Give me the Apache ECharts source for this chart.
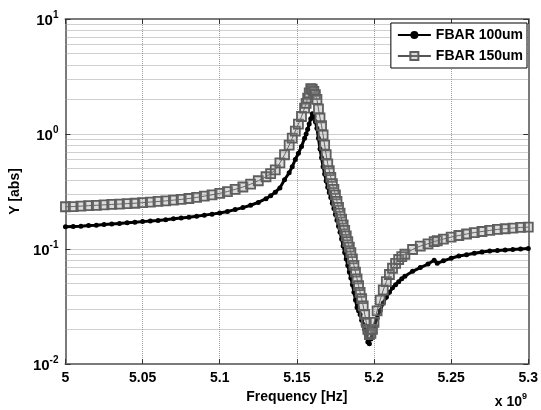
<!DOCTYPE html>
<html>
<head>
<meta charset="utf-8">
<script src="https://cdn.jsdelivr.net/npm/echarts@6/dist/echarts.min.js"></script>
<style>
  html, body { margin: 0; padding: 0; background: #fff; }
  #chart { width: 541px; height: 410px; }
</style>
</head>
<body>
<div id="chart"></div>
<script>
// frequency in GHz (shown as x 10^9 Hz), denser sampling around the resonance
var freq = [
  5.000, 5.005, 5.010, 5.015, 5.020, 5.025, 5.030, 5.035, 5.040, 5.045,
  5.050, 5.055, 5.060, 5.065, 5.070, 5.075, 5.080, 5.085, 5.090, 5.095,
  5.100, 5.105, 5.110, 5.115, 5.120, 5.125, 5.130,
  5.133, 5.136, 5.139, 5.142, 5.145, 5.147, 5.149, 5.151, 5.153, 5.155,
  5.156, 5.157, 5.158, 5.159, 5.160, 5.161, 5.162, 5.163, 5.164, 5.165,
  5.166, 5.167, 5.168, 5.169, 5.170, 5.171, 5.172, 5.173, 5.174, 5.175,
  5.176, 5.177, 5.178, 5.179, 5.180, 5.181, 5.182, 5.183, 5.184, 5.185,
  5.186, 5.187, 5.188, 5.189, 5.190, 5.191, 5.192, 5.193, 5.194, 5.195,
  5.196, 5.197, 5.198, 5.199, 5.200,
  5.202, 5.204, 5.206, 5.208, 5.210, 5.212, 5.214, 5.216, 5.218, 5.220,
  5.225, 5.230, 5.235, 5.239, 5.241, 5.245,
  5.250, 5.255, 5.260, 5.265, 5.270, 5.275, 5.280, 5.285, 5.290, 5.295, 5.300
];

// |Y| for the 100um resonator
var y100 = [
  0.156, 0.157, 0.158, 0.160, 0.161, 0.163, 0.165, 0.167, 0.169, 0.171,
  0.173, 0.175, 0.177, 0.180, 0.183, 0.186, 0.189, 0.193, 0.197, 0.201,
  0.206, 0.212, 0.220, 0.229, 0.240, 0.254, 0.274,
  0.290, 0.312, 0.340, 0.400, 0.46, 0.52, 0.60, 0.68, 0.78, 0.92,
  1.00, 1.10, 1.22, 1.36, 1.50, 1.42, 1.28, 1.12, 0.92, 0.74,
  0.62, 0.52, 0.45, 0.39, 0.345, 0.31, 0.28, 0.25, 0.225, 0.200,
  0.178, 0.158, 0.140, 0.122, 0.106, 0.093, 0.082, 0.072, 0.063, 0.056,
  0.049, 0.042, 0.036, 0.031, 0.029, 0.027, 0.024, 0.022, 0.020, 0.018,
  0.0155, 0.0150, 0.0165, 0.0185, 0.021,
  0.025, 0.029, 0.034, 0.038, 0.042, 0.046, 0.049, 0.052, 0.055, 0.058,
  0.064, 0.069, 0.074, 0.080, 0.075, 0.079,
  0.083, 0.087, 0.089, 0.092, 0.094, 0.096, 0.097, 0.098, 0.099, 0.100, 0.101
];

// |Y| for the 150um resonator
var y150 = [
  0.233, 0.234, 0.236, 0.238, 0.240, 0.242, 0.244, 0.246, 0.248, 0.250,
  0.253, 0.256, 0.259, 0.262, 0.266, 0.270, 0.275, 0.281, 0.288, 0.296,
  0.305, 0.316, 0.330, 0.346, 0.366, 0.392, 0.425,
  0.452, 0.487, 0.56, 0.66, 0.80, 0.92, 1.06, 1.22, 1.42, 1.68,
  1.85, 2.05, 2.28, 2.48, 2.45, 2.35, 2.20, 2.00, 1.65, 1.38,
  1.18, 0.98, 0.80, 0.66, 0.55, 0.48, 0.42, 0.37, 0.33, 0.295,
  0.26, 0.23, 0.205, 0.182, 0.162, 0.145, 0.130, 0.116, 0.104, 0.093,
  0.082, 0.072, 0.063, 0.055, 0.048, 0.042, 0.037, 0.032, 0.027, 0.023,
  0.020, 0.018, 0.0185, 0.020, 0.023,
  0.029, 0.036, 0.044, 0.052, 0.060, 0.068, 0.075, 0.081, 0.086, 0.090,
  0.099, 0.106, 0.111, 0.116, 0.118, 0.122,
  0.127, 0.131, 0.135, 0.139, 0.142, 0.145, 0.148, 0.150, 0.152, 0.154, 0.155
];

var seriesNames = ['FBAR 100um', 'FBAR 150um'];

// minor log grid lines (2..9 of each decade)
var minorGrid = [
  0.02, 0.03, 0.04, 0.05, 0.06, 0.07, 0.08, 0.09,
  0.2, 0.3, 0.4, 0.5, 0.6, 0.7, 0.8, 0.9,
  2, 3, 4, 5, 6, 7, 8, 9
];

var FONT = '"Liberation Sans", Arial, sans-serif';
var BOX = '#7a7a7a';
var GRID = '#a0a0a0';

function pairs(xs, ys) {
  var out = [];
  for (var i = 0; i < xs.length; i++) out.push([xs[i], ys[i]]);
  return out;
}

var powRich = {
  b: { fontFamily: FONT, fontSize: 15, fontWeight: 'bold', color: '#000', verticalAlign: 'bottom' },
  s: { fontFamily: FONT, fontSize: 10, fontWeight: 'bold', color: '#000', verticalAlign: 'top', padding: [0, 0, 8, 0] }
};

var chart = echarts.init(document.getElementById('chart'), null, { renderer: 'canvas' });

var option = {
  backgroundColor: '#fff',
  animation: false,
  grid: { left: 61, right: 9, top: 19, bottom: 46, containLabel: false },
  legend: {
    data: seriesNames,
    orient: 'vertical',
    right: 14,
    top: 23,
    backgroundColor: '#fff',
    borderColor: '#000',
    borderWidth: 1,
    borderRadius: 0,
    padding: [5, 4, 5, 6],
    itemWidth: 33,
    itemHeight: 10,
    itemGap: 7,
    textStyle: { fontFamily: FONT, fontSize: 14, fontWeight: 'bold', color: '#000' }
  },
  xAxis: [{
    type: 'value',
    min: 5,
    max: 5.3,
    interval: 0.05,
    name: 'Frequency [Hz]',
    nameLocation: 'middle',
    nameGap: 26,
    nameTextStyle: { fontFamily: FONT, fontSize: 14, fontWeight: 'bold', color: '#000' },
    axisLine: { onZero: false, lineStyle: { color: BOX, width: 2 } },
    axisTick: { inside: true, length: 5, lineStyle: { color: '#333' } },
    axisLabel: {
      margin: 7,
      fontFamily: FONT, fontSize: 14, fontWeight: 'bold', color: '#000',
      formatter: function (v) { return String(+v.toFixed(2)); }
    },
    splitLine: { show: true, lineStyle: { color: GRID, type: 'dotted', width: 1 } }
  }, {
    type: 'value',
    position: 'top',
    min: 5,
    max: 5.3,
    interval: 0.05,
    axisLine: { lineStyle: { color: BOX, width: 2 } },
    axisTick: { inside: true, length: 5, lineStyle: { color: '#333' } },
    axisLabel: { show: false },
    splitLine: { show: false }
  }],
  yAxis: [{
    type: 'log',
    logBase: 10,
    min: 0.01,
    max: 10,
    name: 'Y [abs]',
    nameLocation: 'middle',
    nameGap: 37,
    nameTextStyle: { fontFamily: FONT, fontSize: 14, fontWeight: 'bold', color: '#000' },
    axisLine: { lineStyle: { color: BOX, width: 2 } },
    axisTick: { inside: true, length: 5, lineStyle: { color: '#333' } },
    axisLabel: {
      margin: 7,
      formatter: function (v) {
        return '{b|10}{s|' + Math.round(Math.log(v) / Math.LN10) + '}';
      },
      rich: powRich
    },
    splitLine: { show: true, lineStyle: { color: GRID, type: 'dotted', width: 1 } }
  }, {
    type: 'log',
    logBase: 10,
    min: 0.01,
    max: 10,
    position: 'right',
    axisLine: { lineStyle: { color: BOX, width: 2 } },
    axisTick: { inside: true, length: 5, lineStyle: { color: '#333' } },
    axisLabel: { show: false },
    splitLine: { show: false }
  }],
  graphic: [{
    type: 'text',
    right: 14,
    top: 392,
    style: {
      text: '{b|x 10}{s|9}',
      rich: {
        b: { fontFamily: FONT, fontSize: 14, fontWeight: 'bold', fill: '#000', verticalAlign: 'bottom' },
        s: { fontFamily: FONT, fontSize: 9, fontWeight: 'bold', fill: '#000', verticalAlign: 'top', padding: [0, 0, 8, 0] }
      }
    }
  }],
  series: [{
    name: seriesNames[0],
    type: 'line',
    data: pairs(freq, y100),
    symbol: 'circle',
    symbolSize: 5,
    showAllSymbol: true,
    lineStyle: { color: '#000', width: 3 },
    itemStyle: { color: '#000' },
    z: 3
  }, {
    name: seriesNames[1],
    type: 'line',
    data: pairs(freq, y150),
    symbol: 'rect',
    symbolSize: 9,
    showAllSymbol: true,
    lineStyle: { color: '#555', width: 1 },
    // hollow squares, slightly tinted so the dense band reads like the scan
    itemStyle: { color: 'rgba(140,140,140,0.3)', borderColor: '#5e5e5e', borderWidth: 1.8 },
    z: 4,
    markLine: {
      silent: true,
      symbol: 'none',
      animation: false,
      label: { show: false },
      lineStyle: { color: GRID, type: 'dotted', width: 1 },
      data: minorGrid.map(function (v) { return { yAxis: v }; }),
      z: 1
    }
  }]
};

chart.setOption(option);
</script>
</body>
</html>
